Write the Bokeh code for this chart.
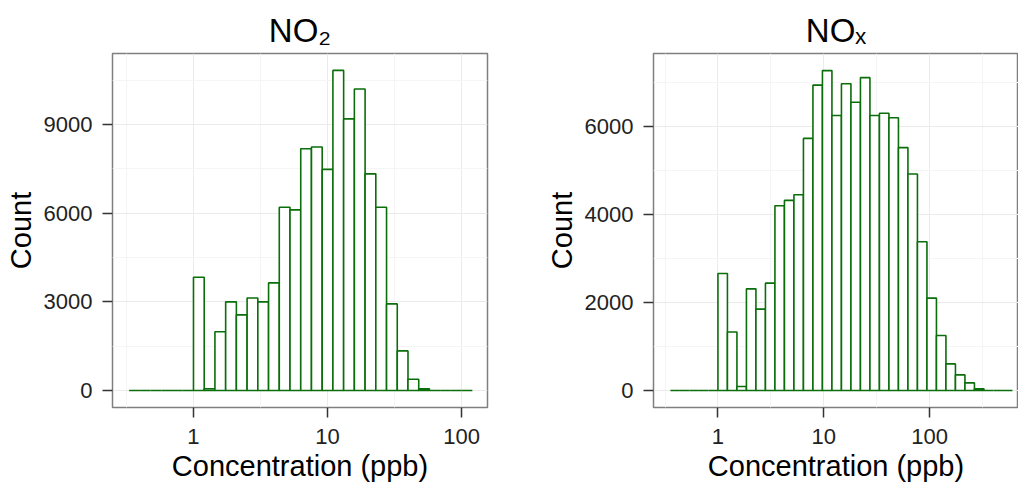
import numpy as np
from bokeh.plotting import figure
from bokeh.models import Range1d, FixedTicker, ColumnDataSource
from bokeh.layouts import row
from bokeh.embed import file_html
from bokeh.resources import INLINE

# ---- data ----
# NO2 histogram: log10 bin start, log10 bin width, counts per bin
no2_log_start = -0.48
no2_log_width = 0.08
no2_counts = [0, 0, 0, 0, 0, 0,
              3830, 60, 1990, 3000, 2560, 3130, 3000, 3640, 6200, 6110,
              8180, 8240, 7480, 10830, 9190, 10200, 7330, 6200, 2930, 1340,
              380, 56,
              0, 0, 0, 0]

# NOx histogram
nox_log_start = -0.449
nox_log_width = 0.0898
nox_counts = [0, 0, 0, 0, 0,
              2660, 1330, 90, 2310, 1850, 2440, 4200, 4320, 4450, 5730,
              6940, 7270, 6250, 6970, 6550, 7110, 6250, 6300, 6200, 5520,
              4920, 3380, 2100, 1250, 605, 355, 174, 38,
              0, 0, 0]

x_ticks = [1, 10, 100]
x_tick_labels = {1: "1", 10: "10", 100: "100"}
no2_y_ticks = [0, 3000, 6000, 9000]
nox_y_ticks = [0, 2000, 4000, 6000]

FONT = "Liberation Sans"
GREEN = "#0a6e0a"


def make_panel(counts, log_start, log_width, xr, yr, yticks, yminor,
               width, bl, br, title, title_offset):
    n = len(counts)
    edges = log_start + log_width * np.arange(n + 1)
    src = ColumnDataSource(dict(left=10 ** edges[:-1], right=10 ** edges[1:],
                                top=counts, bottom=[0] * n))
    p = figure(width=width, height=486, x_axis_type="log",
               x_range=Range1d(*xr), y_range=Range1d(*yr),
               output_backend="svg", toolbar_location=None,
               min_border_left=bl, min_border_right=br,
               min_border_top=53, min_border_bottom=79)
    p.background_fill_color = "white"
    p.border_fill_color = "white"
    p.outline_line_color = "#7f7f7f"
    p.outline_line_width = 1.5

    p.title.text = title
    p.title.align = "center"
    p.title.offset = title_offset
    p.title.text_font = FONT
    p.title.text_font_size = "33px"
    p.title.text_font_style = "normal"
    p.title.text_color = "black"

    p.quad(left="left", right="right", top="top", bottom="bottom", source=src,
           fill_color="white", line_color=GREEN, line_width=1.6)

    p.xaxis.ticker = FixedTicker(ticks=x_ticks,
                                 minor_ticks=[10 ** -0.5, 10 ** 0.5, 10 ** 1.5, 10 ** 2.5])
    p.xaxis.major_label_overrides = x_tick_labels
    p.yaxis.ticker = FixedTicker(ticks=yticks, minor_ticks=yminor)

    for ax in (p.xaxis[0], p.yaxis[0]):
        ax.axis_line_color = None
        ax.major_tick_line_color = "#333333"
        ax.major_tick_line_width = 1.5
        ax.major_tick_out = 10
        ax.major_tick_in = 0
        ax.minor_tick_out = 0
        ax.minor_tick_in = 0
        ax.major_label_text_font = FONT
        ax.major_label_text_font_size = "22px"
        ax.major_label_text_color = "#222222"
        ax.axis_label_text_font = FONT
        ax.axis_label_text_font_size = "29px"
        ax.axis_label_text_font_style = "normal"
        ax.axis_label_text_color = "#000000"
    p.xaxis.axis_label = "Concentration (ppb)"
    p.yaxis.axis_label = "Count"
    p.xaxis.major_label_standoff = 11
    p.xaxis.axis_label_standoff = 3
    p.yaxis.major_label_standoff = 10
    p.yaxis.axis_label_standoff = 4

    for g in (p.xgrid[0], p.ygrid[0]):
        g.grid_line_color = "#ebebeb"
        g.grid_line_width = 1
        g.minor_grid_line_color = "#f5f5f5"
        g.minor_grid_line_width = 1
    return p


p1 = make_panel(no2_counts, no2_log_start, no2_log_width,
                (10 ** -0.604, 10 ** 2.193), (-575, 11402),
                no2_y_ticks, [1500, 4500, 7500, 10500],
                540, 112, 53, "NO\u2082", 0)
p2 = make_panel(nox_counts, nox_log_start, nox_log_width,
                (10 ** -0.609, 10 ** 2.841), (-386, 7659),
                nox_y_ticks, [1000, 3000, 5000, 7000],
                478, 113, 0, "NO\u2093", 5)

layout = row(p1, p2)
open("out.html", "w").write(file_html(layout, INLINE))
